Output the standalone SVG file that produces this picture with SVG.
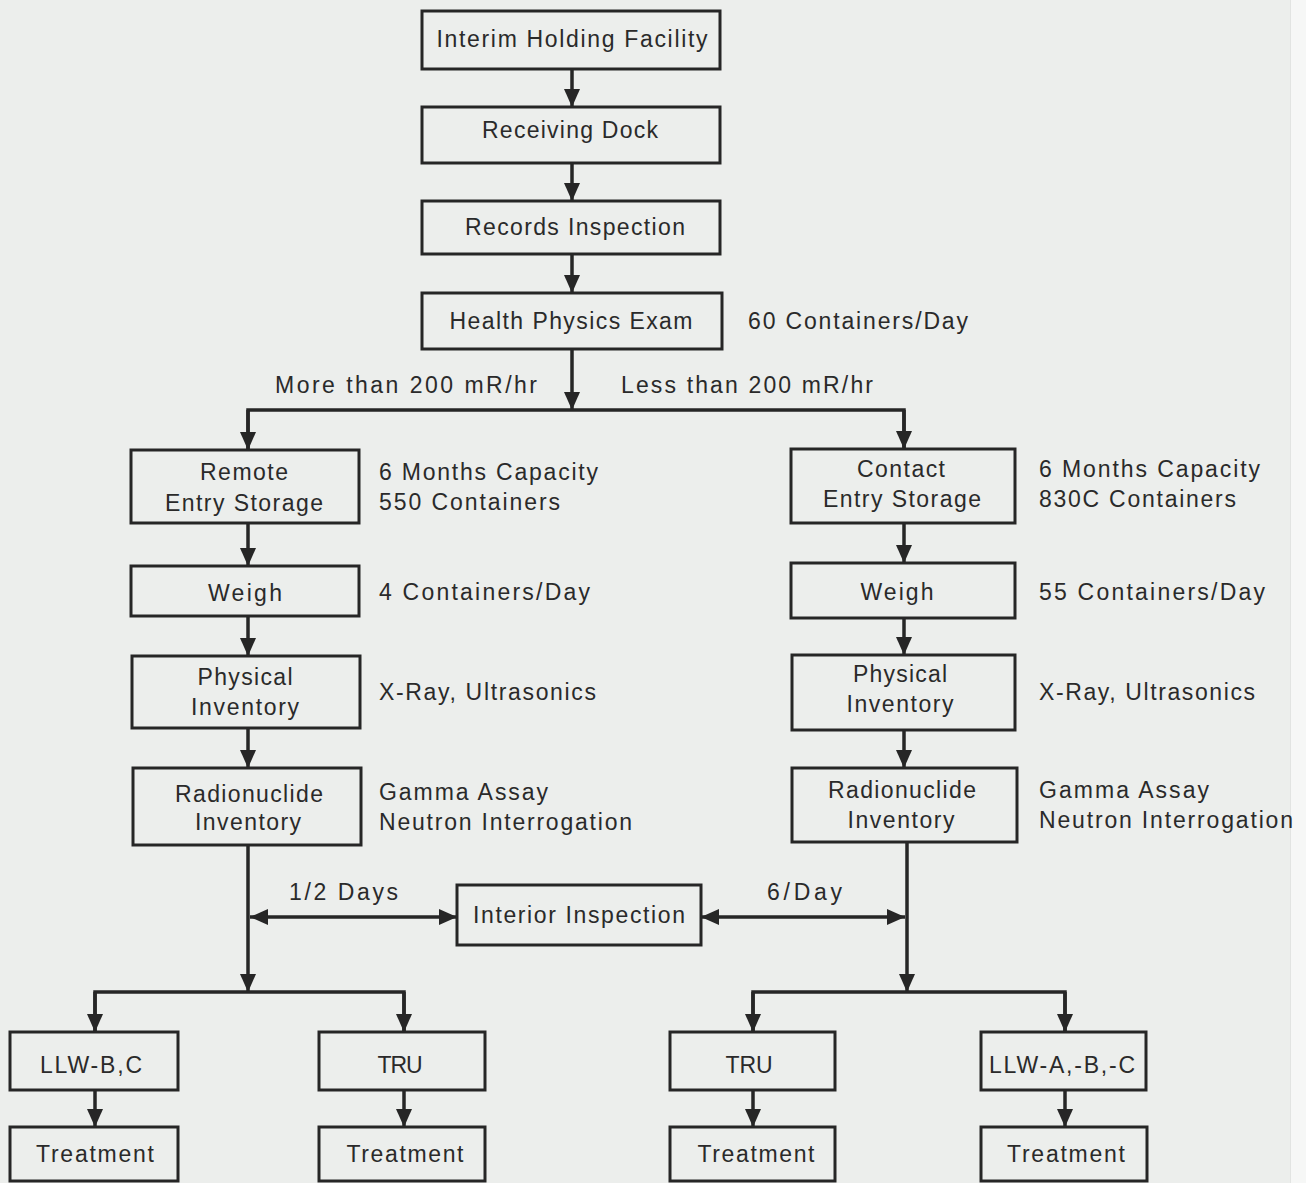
<svg xmlns="http://www.w3.org/2000/svg" width="1306" height="1183" viewBox="0 0 1306 1183">
<defs>
<marker id="ah" markerUnits="userSpaceOnUse" markerWidth="18" markerHeight="18" refX="18" refY="8" orient="auto-start-reverse" viewBox="0 0 18 16">
<path d="M0,0 L18,8 L0,16 z" fill="#262626"/>
</marker>
<style>
.box{fill:none;stroke:#262626;stroke-width:3}
.t{font-family:"Liberation Sans",Arial,sans-serif;font-size:23px;fill:#2a2a2a}
.c{text-anchor:middle}
.ln{fill:none;stroke:#262626;stroke-width:3.5}
.ar{marker-end:url(#ah)}
.da{marker-start:url(#ah);marker-end:url(#ah)}
</style>
</defs>
<rect x="0" y="0" width="1306" height="1183" fill="#eceeec"/>
<rect x="1291" y="0" width="15" height="1183" fill="#f6f7f6"/>
<line x1="1290.5" y1="0" x2="1290.5" y2="1183" stroke="#e2e4e2" stroke-width="1"/>

<g id="connectors">
<line class="ln ar" x1="572" y1="69" x2="572" y2="107"/>
<line class="ln ar" x1="572" y1="163" x2="572" y2="201"/>
<line class="ln ar" x1="572" y1="254" x2="572" y2="293"/>
<line class="ln ar" x1="572" y1="349" x2="572" y2="410"/>
<polyline class="ln" points="248,450 248,410 904,410 904,449"/>
<line class="ln ar" x1="248" y1="410" x2="248" y2="450"/>
<line class="ln ar" x1="904" y1="410" x2="904" y2="449"/>
<line class="ln ar" x1="248" y1="523" x2="248" y2="566"/>
<line class="ln ar" x1="248" y1="616" x2="248" y2="656"/>
<line class="ln ar" x1="248" y1="728" x2="248" y2="768"/>
<line class="ln ar" x1="904" y1="523" x2="904" y2="563"/>
<line class="ln ar" x1="904" y1="618" x2="904" y2="655"/>
<line class="ln ar" x1="904" y1="730" x2="904" y2="768"/>
<line class="ln ar" x1="248" y1="845" x2="248" y2="992"/>
<line class="ln ar" x1="907" y1="842" x2="907" y2="992"/>
<line class="ln da" x1="250" y1="917" x2="457" y2="917"/>
<line class="ln da" x1="701" y1="917" x2="905" y2="917"/>
<polyline class="ln" points="95,1032 95,992 404,992 404,1032"/>
<line class="ln ar" x1="95" y1="992" x2="95" y2="1032"/>
<line class="ln ar" x1="404" y1="992" x2="404" y2="1032"/>
<polyline class="ln" points="753,1032 753,992 1065,992 1065,1032"/>
<line class="ln ar" x1="753" y1="992" x2="753" y2="1032"/>
<line class="ln ar" x1="1065" y1="992" x2="1065" y2="1032"/>
<line class="ln ar" x1="95" y1="1090" x2="95" y2="1127"/>
<line class="ln ar" x1="404" y1="1090" x2="404" y2="1127"/>
<line class="ln ar" x1="753" y1="1090" x2="753" y2="1127"/>
<line class="ln ar" x1="1065" y1="1090" x2="1065" y2="1127"/>
</g>

<g id="labels">
<text class="t" x="748" y="329" textLength="220" lengthAdjust="spacing">60 Containers/Day</text>
<text class="t" x="275" y="393" textLength="262" lengthAdjust="spacing">More than 200 mR/hr</text>
<text class="t" x="621" y="393" textLength="252" lengthAdjust="spacing">Less than 200 mR/hr</text>
<text class="t" x="379" y="480" textLength="219" lengthAdjust="spacing">6 Months Capacity</text>
<text class="t" x="379" y="510" textLength="181" lengthAdjust="spacing">550 Containers</text>
<text class="t" x="1039" y="477" textLength="221" lengthAdjust="spacing">6 Months Capacity</text>
<text class="t" x="1039" y="507" textLength="197" lengthAdjust="spacing">830C Containers</text>
<text class="t" x="379" y="600" textLength="211" lengthAdjust="spacing">4 Containers/Day</text>
<text class="t" x="1039" y="600" textLength="226" lengthAdjust="spacing">55 Containers/Day</text>
<text class="t" x="379" y="700" textLength="217" lengthAdjust="spacing">X-Ray, Ultrasonics</text>
<text class="t" x="1039" y="700" textLength="216" lengthAdjust="spacing">X-Ray, Ultrasonics</text>
<text class="t" x="379" y="800" textLength="169" lengthAdjust="spacing">Gamma Assay</text>
<text class="t" x="379" y="830" textLength="253" lengthAdjust="spacing">Neutron Interrogation</text>
<text class="t" x="1039" y="798" textLength="170" lengthAdjust="spacing">Gamma Assay</text>
<text class="t" x="1039" y="828" textLength="254" lengthAdjust="spacing">Neutron Interrogation</text>
<text class="t" x="289" y="900" textLength="109" lengthAdjust="spacing">1/2 Days</text>
<text class="t" x="767" y="900" textLength="75" lengthAdjust="spacing">6/Day</text>
</g>

<g id="n-interim"><rect class="box" x="422" y="11" width="298" height="58"/><text class="t c" x="572" y="47" textLength="271" lengthAdjust="spacing">Interim Holding Facility</text></g>
<g id="n-receiving"><rect class="box" x="422" y="107" width="298" height="56"/><text class="t c" x="570" y="138" textLength="176" lengthAdjust="spacing">Receiving Dock</text></g>
<g id="n-records"><rect class="box" x="422" y="201" width="298" height="53"/><text class="t c" x="575" y="235" textLength="220" lengthAdjust="spacing">Records Inspection</text></g>
<g id="n-health"><rect class="box" x="422" y="293" width="300" height="56"/><text class="t c" x="571" y="329" textLength="243" lengthAdjust="spacing">Health Physics Exam</text></g>

<g id="n-remote"><rect class="box" x="131" y="450" width="228" height="73"/><text class="t c" x="244" y="480" textLength="88" lengthAdjust="spacing">Remote</text><text class="t c" x="244" y="511" textLength="158" lengthAdjust="spacing">Entry Storage</text></g>
<g id="n-contact"><rect class="box" x="791" y="449" width="224" height="74"/><text class="t c" x="901" y="477" textLength="88" lengthAdjust="spacing">Contact</text><text class="t c" x="902" y="507" textLength="158" lengthAdjust="spacing">Entry Storage</text></g>
<g id="n-weigh-l"><rect class="box" x="131" y="566" width="228" height="50"/><text class="t c" x="245" y="601" textLength="74" lengthAdjust="spacing">Weigh</text></g>
<g id="n-weigh-r"><rect class="box" x="791" y="563" width="224" height="55"/><text class="t c" x="897" y="600" textLength="73" lengthAdjust="spacing">Weigh</text></g>
<g id="n-phys-l"><rect class="box" x="132" y="656" width="228" height="72"/><text class="t c" x="245" y="685" textLength="95" lengthAdjust="spacing">Physical</text><text class="t c" x="245" y="715" textLength="108" lengthAdjust="spacing">Inventory</text></g>
<g id="n-phys-r"><rect class="box" x="792" y="655" width="223" height="75"/><text class="t c" x="900" y="682" textLength="94" lengthAdjust="spacing">Physical</text><text class="t c" x="900" y="712" textLength="107" lengthAdjust="spacing">Inventory</text></g>
<g id="n-radio-l"><rect class="box" x="133" y="768" width="228" height="77"/><text class="t c" x="249" y="802" textLength="148" lengthAdjust="spacing">Radionuclide</text><text class="t c" x="248" y="830" textLength="106" lengthAdjust="spacing">Inventory</text></g>
<g id="n-radio-r"><rect class="box" x="792" y="768" width="225" height="74"/><text class="t c" x="902" y="798" textLength="148" lengthAdjust="spacing">Radionuclide</text><text class="t c" x="901" y="828" textLength="107" lengthAdjust="spacing">Inventory</text></g>
<g id="n-interior"><rect class="box" x="457" y="885" width="244" height="60"/><text class="t c" x="579" y="923" textLength="212" lengthAdjust="spacing">Interior Inspection</text></g>

<g id="n-llwbc"><rect class="box" x="10" y="1032" width="168" height="58"/><text class="t c" x="91" y="1073" textLength="102" lengthAdjust="spacing">LLW-B,C</text></g>
<g id="n-tru-l"><rect class="box" x="319" y="1032" width="166" height="58"/><text class="t c" x="400" y="1073" textLength="45" lengthAdjust="spacing">TRU</text></g>
<g id="n-tru-r"><rect class="box" x="670" y="1032" width="165" height="58"/><text class="t c" x="749" y="1073" textLength="47" lengthAdjust="spacing">TRU</text></g>
<g id="n-llwabc"><rect class="box" x="981" y="1032" width="165" height="58"/><text class="t c" x="1062" y="1073" textLength="146" lengthAdjust="spacing">LLW-A,-B,-C</text></g>
<g id="n-treat1"><rect class="box" x="10" y="1127" width="168" height="54"/><text class="t c" x="95" y="1162" textLength="118" lengthAdjust="spacing">Treatment</text></g>
<g id="n-treat2"><rect class="box" x="319" y="1127" width="166" height="54"/><text class="t c" x="405" y="1162" textLength="117" lengthAdjust="spacing">Treatment</text></g>
<g id="n-treat3"><rect class="box" x="670" y="1127" width="165" height="54"/><text class="t c" x="756" y="1162" textLength="117" lengthAdjust="spacing">Treatment</text></g>
<g id="n-treat4"><rect class="box" x="981" y="1127" width="166" height="54"/><text class="t c" x="1066" y="1162" textLength="118" lengthAdjust="spacing">Treatment</text></g>
</svg>
